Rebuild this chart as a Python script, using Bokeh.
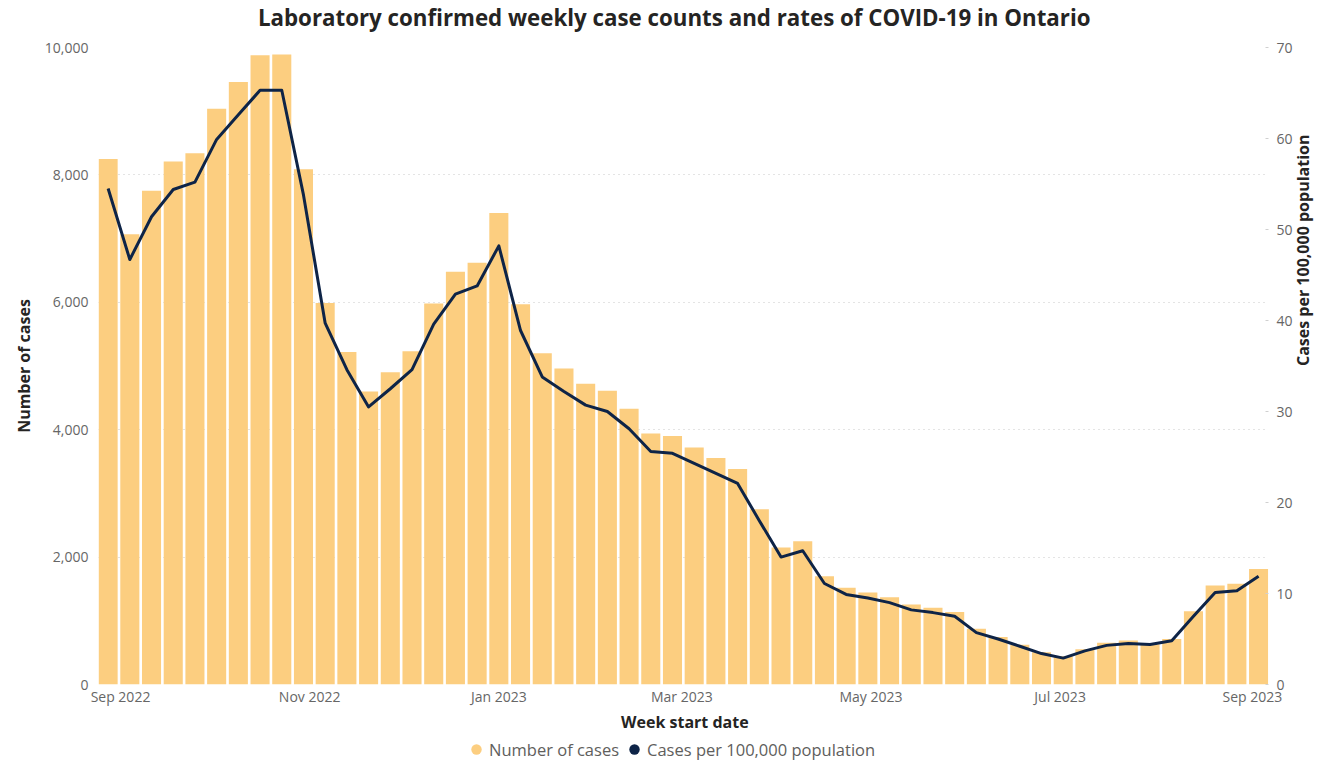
import math
import pandas as pd
from bokeh.plotting import figure
from bokeh.layouts import column
from bokeh.models import (Range1d, LinearAxis, FixedTicker, Legend, LegendItem, Label,
                          NumeralTickFormatter, DatetimeTickFormatter, ColumnDataSource)
from bokeh.embed import file_html
from bokeh.resources import INLINE

# ---- data -------------------------------------------------------------
week_start = pd.date_range("2022-08-28", periods=54, freq="7D")

cases = [8250, 7070, 7750, 8210, 8340, 9040, 9460, 9880, 9890, 8090,
         5990, 5220, 4600, 4900, 5230, 5980, 6480, 6620, 7400, 5970,
         5200, 4960, 4720, 4610, 4330, 3940, 3900, 3720, 3555, 3385,
         2750, 2150, 2250, 1700, 1520, 1445, 1370, 1255, 1205, 1140,
         875, 745, 625, 505, 445, 555, 655, 690, 630, 715,
         1150, 1555, 1580, 1815]

rate = [54.5, 46.7, 51.4, 54.4, 55.2, 59.9, 62.6, 65.3, 65.3, 53.8,
        39.7, 34.6, 30.5, 32.5, 34.6, 39.6, 42.9, 43.8, 48.2, 38.9,
        33.8, 32.2, 30.7, 30.0, 28.1, 25.6, 25.4, 24.3, 23.2, 22.1,
        18.0, 14.0, 14.7, 11.1, 9.9, 9.5, 9.0, 8.2, 7.9, 7.5,
        5.7, 5.0, 4.2, 3.4, 2.9, 3.7, 4.3, 4.5, 4.4, 4.8,
        7.5, 10.1, 10.3, 11.9]

x_tick_dates = ["2022-09-01", "2022-11-01", "2023-01-01", "2023-03-01",
                "2023-05-01", "2023-07-01", "2023-09-01"]
left_ticks = [0, 2000, 4000, 6000, 8000, 10000]
right_ticks = [0, 10, 20, 30, 40, 50, 60, 70]

title_text = "Laboratory confirmed weekly case counts and rates of COVID-19 in Ontario"
x_title = "Week start date"
series_names = ["Number of cases", "Cases per 100,000 population"]

# ---- styling ----------------------------------------------------------
BAR = "#FCCE80"
LINE = "#0E2447"
TICK = "#666666"
DARK = "#252423"
FONT = "Open Sans"
DAY = 86400000

W = 1327
TOP_H, MAIN_H, BOT_H = 35, 677, 50

src = ColumnDataSource(dict(x=week_start, cases=cases, rate=rate))

x0 = week_start[0] - pd.Timedelta(days=3.1)
x1 = week_start[-1] + pd.Timedelta(days=3.2)


def strip(h):
    s = figure(width=W, height=h, output_backend="svg", toolbar_location=None,
               x_range=Range1d(0, W), y_range=Range1d(0, h), min_border=0)
    s.axis.visible = False
    s.grid.visible = False
    s.outline_line_color = None
    return s


# ---- top strip: title ----------------------------------------------------
top = strip(TOP_H)
top.add_layout(Label(x=653, y=TOP_H - 17, text=title_text, text_align="center",
                     text_baseline="middle", text_font=FONT, text_font_size="22.3px",
                     text_font_style="bold", text_color=DARK))

# ---- main chart -----------------------------------------------------------
p = figure(width=W, height=MAIN_H, x_axis_type="datetime",
           output_backend="svg", toolbar_location=None,
           x_range=Range1d(x0, x1), y_range=Range1d(0, 10000),
           min_border_left=98, min_border_right=59,
           min_border_top=12, min_border_bottom=28)
p.extra_y_ranges = {"rate": Range1d(0, 70)}
p.outline_line_color = None

p.vbar(x="x", top="cases", width=6.15 * DAY, source=src,
       fill_color=BAR, line_color=None)
p.line(x="x", y="rate", source=src, y_range_name="rate",
       line_color=LINE, line_width=3, line_join="round")

p.xgrid.visible = False
p.ygrid.grid_line_color = "#C8C8C8"
p.ygrid.grid_line_dash = "1 4"
p.ygrid.grid_line_width = 1


def style_axis(ax, standoff):
    ax.major_label_text_font = FONT
    ax.major_label_text_font_size = "14px"
    ax.major_label_text_color = TICK
    ax.major_label_standoff = standoff
    ax.axis_line_color = None
    ax.major_tick_line_color = None
    ax.major_tick_in = 0
    ax.major_tick_out = 0
    ax.minor_tick_line_color = None
    ax.minor_tick_in = 0
    ax.minor_tick_out = 0
    ax.axis_label_text_font = FONT
    ax.axis_label_text_font_style = "bold"
    ax.axis_label_text_font_size = "16px"
    ax.axis_label_text_color = DARK


xa = p.xaxis[0]
xa.ticker = FixedTicker(ticks=[pd.Timestamp(d).value // 10**6 for d in x_tick_dates])
xa.formatter = DatetimeTickFormatter(months="%b %Y", days="%b %Y", years="%b %Y")
style_axis(xa, 2)

ya = p.yaxis[0]
ya.ticker = FixedTicker(ticks=left_ticks)
ya.formatter = NumeralTickFormatter(format="0,0")
style_axis(ya, 10)
ya.axis_label = series_names[0]
ya.axis_label_standoff = 7

ra = LinearAxis(y_range_name="rate", ticker=FixedTicker(ticks=right_ticks))
style_axis(ra, 8)
ra.major_tick_line_color = "#D0D0D0"
ra.major_tick_in = 3
ra.axis_label = series_names[1]
ra.axis_label_orientation = math.pi / 2
ra.axis_label_standoff = 7
p.add_layout(ra, "right")

# ---- bottom strip: x title + legend ------------------------------------------
bot = strip(BOT_H)
bot.add_layout(Label(x=665, y=BOT_H - 9, text=x_title, text_align="center",
                     text_baseline="middle", text_font=FONT, text_font_size="16px",
                     text_font_style="bold", text_color=DARK))
d1 = bot.scatter(x=[float("nan")], y=[float("nan")], marker="circle", size=12,
                 fill_color=BAR, line_color=None)
d2 = bot.scatter(x=[float("nan")], y=[float("nan")], marker="circle", size=12,
                 fill_color=LINE, line_color=None)
legend = Legend(items=[LegendItem(label=series_names[0], renderers=[d1]),
                       LegendItem(label=series_names[1], renderers=[d2])],
                orientation="horizontal", location=(365, 0),
                glyph_width=26, glyph_height=26, label_standoff=0, spacing=2,
                padding=0, margin=0, border_line_color=None,
                background_fill_alpha=0,
                label_text_font=FONT, label_text_font_size="16.5px",
                label_text_color="#605E5C")
bot.add_layout(legend, "center")

layout = column(top, p, bot, spacing=0)
open("out.html", "w").write(file_html(layout, INLINE))
